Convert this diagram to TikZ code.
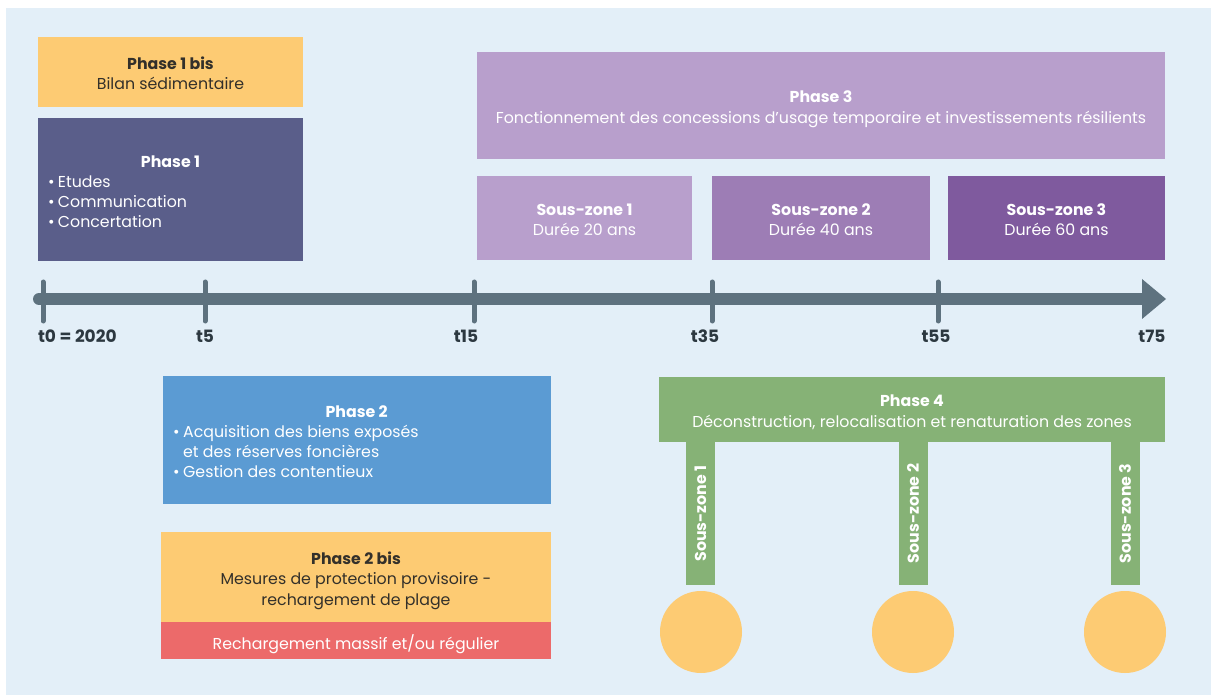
\documentclass[tikz,border=0pt]{standalone}
\usepackage{fontspec}
\setmainfont{Poppins}
\definecolor{bgc}{HTML}{E3EFF8}
\definecolor{yel}{HTML}{FDCB73}
\definecolor{ph1}{HTML}{5A5E8A}
\definecolor{ph3}{HTML}{B89FCC}
\definecolor{sz2}{HTML}{9D7DB5}
\definecolor{sz3}{HTML}{7F5A9E}
\definecolor{axc}{HTML}{5E727F}
\definecolor{ph2}{HTML}{5B9BD3}
\definecolor{redc}{HTML}{EC6A6A}
\definecolor{grn}{HTML}{86B276}
\definecolor{dk}{HTML}{33302A}
\definecolor{lbl}{HTML}{2C3840}
\newcommand\bul{\makebox[10pt][l]{•}}
\newcommand\topstrut{\rule{0pt}{23.4pt}}
\newcommand\ptopstrut{\rule{0pt}{21.4pt}}
\newcommand\botstrut{\rule[-6.15pt]{0pt}{6.15pt}}
\newcommand\btext[2]{\parbox{#1}{\fontsize{15.8}{20.5}\selectfont\centering\ptopstrut #2\botstrut}}
\begin{document}
\begin{tikzpicture}[x=1pt,y=-1pt,
  every node/.style={inner sep=0pt,outer sep=0pt,font=\fontsize{15.8}{20.5}\selectfont},
  pbox/.style={rectangle,align=center,execute at begin node=\topstrut,execute at end node=\botstrut},
  lbox/.style={rectangle},
  whitetext/.style={text=white},
  darktext/.style={text=dk},
  ticklbl/.style={font=\fontsize{17}{20}\selectfont\bfseries,text=lbl},
  stem/.style={rectangle,fill=grn,rotate=90,minimum width=143pt,minimum height=29pt,text=white,font=\fontsize{15.8}{18}\selectfont\bfseries},
  ball/.style={circle,fill=yel,minimum size=82pt},
  axisline/.style={line width=12pt,draw=axc,line cap=round},
  tickline/.style={line width=5pt,draw=axc,line cap=round}]
\useasboundingbox (0,0) rectangle (1211,695);
\fill[bgc] (6,8) rectangle (1211,695);

% Phase 1 bis and Phase 1
\node[lbox,fill=yel,darktext,minimum width=265pt,minimum height=70pt] (p1b) at (170.5,72)
  {\btext{255pt}{\textbf{Phase 1 bis}\\Bilan sédimentaire}};
\node[lbox,fill=ph1,whitetext,minimum width=265pt,minimum height=143pt] (p1) at (170.5,189.5)
  {\parbox{245pt}{\fontsize{15.8}{20}\selectfont\ptopstrut\centering\textbf{Phase 1}\par\raggedright
   \bul Etudes\par\bul Communication\par\bul Concertation\botstrut}};

% Phase 3
\node[lbox,fill=ph3,whitetext,minimum width=688pt,minimum height=107pt] (p3) at (821,105.5)
  {\btext{680pt}{\textbf{Phase 3}\\Fonctionnement des concessions d’usage temporaire et investissements résilients}};
\node[lbox,fill=ph3,whitetext,minimum width=215pt,minimum height=84pt] (sz1) at (584.5,218)
  {\btext{205pt}{\textbf{Sous-zone 1}\\Durée 20 ans}};
\node[lbox,fill=sz2,whitetext,minimum width=218pt,minimum height=84pt] (sz2b) at (821,218)
  {\btext{208pt}{\textbf{Sous-zone 2}\\Durée 40 ans}};
\node[lbox,fill=sz3,whitetext,minimum width=217pt,minimum height=84pt] (sz3b) at (1056.5,218)
  {\btext{207pt}{\textbf{Sous-zone 3}\\Durée 60 ans}};

% Timeline
\coordinate (axL) at (39,299);
\coordinate (axR) at (1143,299);
\draw[axisline] (axL) -- (axR);
\fill[axc] (1142,279) -- (1166,299) -- (1142,319) -- cycle;
\foreach \n/\x in {t0/43,t5/205,t15/474,t35/712,t55/938}{
  \coordinate (\n top) at (\x,282);
  \coordinate (\n bot) at (\x,321);
  \draw[tickline] (\n top) -- (\n bot);
}
\node[ticklbl,anchor=west] (l0) at (38,336) {t0 = 2020};
\node[ticklbl] (l5) at (205,336) {t5};
\node[ticklbl] (l15) at (466,336) {t15};
\node[ticklbl] (l35) at (705,336) {t35};
\node[ticklbl] (l55) at (936,336) {t55};
\node[ticklbl] (l75) at (1152,336) {t75};

% Phase 2 and 2 bis
\node[lbox,fill=ph2,whitetext,minimum width=388pt,minimum height=128pt] (p2) at (356.7,440)
  {\parbox{367pt}{\fontsize{15.8}{20}\selectfont\ptopstrut\centering\textbf{Phase 2}\par\raggedright
   \bul Acquisition des biens exposés\par\hspace*{10pt}et des réserves foncières\par\bul Gestion des contentieux\botstrut}};
\node[lbox,fill=yel,darktext,minimum width=390pt,minimum height=90pt] (p2b) at (356,577)
  {\btext{380pt}{\textbf{Phase 2 bis}\\Mesures de protection provisoire -\\rechargement de plage}};
\node[pbox,fill=redc,whitetext,minimum width=390pt,minimum height=37pt,anchor=north] (rech) at (p2b.south)
  {Rechargement massif et/ou régulier};

% Phase 4
\node[lbox,fill=grn,whitetext,minimum width=506pt,minimum height=65pt] (p4) at (912,409.5)
  {\btext{496pt}{\textbf{Phase 4}\\Déconstruction, relocalisation et renaturation des zones}};
\node[stem] (st1) at (700.5,513.5) {Sous-zone 1};
\node[stem] (st2) at (913,513.5) {Sous-zone 2};
\node[stem] (st3) at (1125,513.5) {Sous-zone 3};
\node[ball] (c1) at (701,632) {};
\node[ball] (c2) at (913,632) {};
\node[ball] (c3) at (1125,632) {};
\end{tikzpicture}
\end{document}
